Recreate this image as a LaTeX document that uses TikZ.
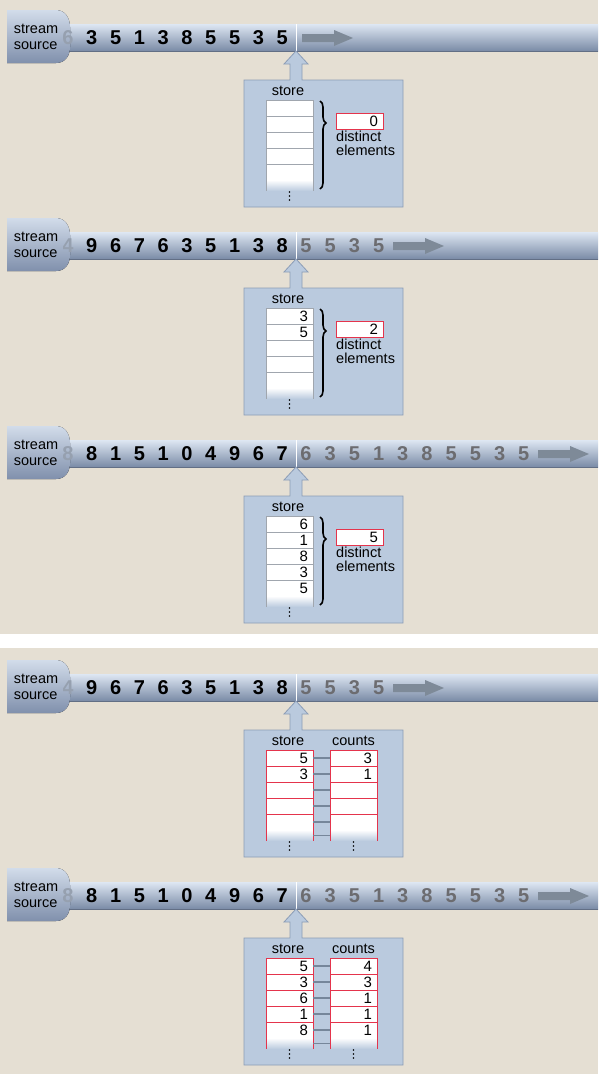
\documentclass[tikz,border=0pt]{standalone}
\usepackage{fontspec}
\setmainfont{Liberation Sans}
\usetikzlibrary{decorations.pathreplacing,positioning}

\definecolor{bgBeige}{RGB}{229,223,211}
\definecolor{boxFill}{RGB}{186,202,222}
\definecolor{boxEdge}{RGB}{140,157,182}
\definecolor{barTop}{RGB}{222,231,243}
\definecolor{barMid}{RGB}{202,215,233}
\definecolor{barBot}{RGB}{122,139,166}
\definecolor{srcTop}{RGB}{210,220,234}
\definecolor{srcBot}{RGB}{128,144,172}
\definecolor{hideGray}{RGB}{150,160,175}
\definecolor{flowGray}{RGB}{126,138,152}
\definecolor{waitGray}{RGB}{108,108,112}
\definecolor{cellGray}{RGB}{160,166,174}
\definecolor{cellRed}{RGB}{228,52,76}
\definecolor{linkGray}{RGB}{118,134,154}

\begin{document}
\begin{tikzpicture}[x=1pt, y=-1pt,
		txt/.style={font=\fontsize{14.5}{14}\selectfont, inner sep=0pt},
		bigdigit/.style={font=\fontsize{20}{20}\selectfont\bfseries, inner sep=0pt},
		cellnum/.style={font=\fontsize{15}{15}\selectfont, inner sep=0pt, anchor=east},
		cell/.style={draw=#1, fill=white, minimum width=47pt, minimum height=16pt, inner sep=0pt},
		cellfade/.style={top color=white, middle color=white, bottom color=boxFill, minimum width=47pt, minimum height=11pt, inner sep=0pt},
		counter/.style={draw=cellRed, fill=white, minimum width=47pt, minimum height=16pt, inner sep=0pt},
		panelbox/.style={draw=boxEdge, fill=boxFill, line width=0.8pt},
		link/.style={draw=linkGray, line width=1.3pt}
		]
		
		\useasboundingbox (0,0) rectangle (598,1074);
		\fill[bgBeige] (0,0) rectangle (598,634);
		\fill[bgBeige] (0,648) rectangle (598,1074);
		
		% Streams and store boxes
		\foreach \p/\dy/\blk/\gry/\ax in {
			1/0/{6,3,5,1,3,8,5,5,3,5}/{}/302,
			2/208/{4,9,6,7,6,3,5,1,3,8}/{5,5,3,5}/393,
			3/416/{8,8,1,5,1,0,4,9,6,7}/{6,3,5,1,3,8,5,5,3,5}/538,
			4/650/{4,9,6,7,6,3,5,1,3,8}/{5,5,3,5}/393,
			5/858/{8,8,1,5,1,0,4,9,6,7}/{6,3,5,1,3,8,5,5,3,5}/538}{
			\begin{scope}[shift={(0,\dy)}]
				\fill[top color=barTop, middle color=barMid, bottom color=barBot] (60,24) rectangle (598,51);
				\draw[barBot!80!black, line width=0.6pt] (60,51) -- (598,51);
				\foreach \d [count=\i from 0] in \blk {
					\ifnum\i>0 \node[bigdigit] (d\p-\i) at (68+23.8*\i,38) {\d};\fi
				}
				\foreach \d [count=\j from 0] in \gry
					\node[bigdigit, text=waitGray] (g\p-\j) at (306+24.2*\j,38) {\d};
				\fill[top color=srcTop, bottom color=srcBot] (7,10) -- (56,10) .. controls (65,10) and (70,18) .. (70,27) -- (70,47) .. controls (70,56) and (65,63) .. (56,63) -- (7,63) -- cycle;
				\node[txt, align=left, font=\fontsize{14.5}{16}\selectfont] (src\p) at (36,37) {stream\\source};
				% first digit half hidden by the source
				\begin{scope}
					\clip (63,20) rectangle (80,55);
					\foreach \d [count=\i from 0] in \blk {
						\ifnum\i=0 \node[bigdigit, text=hideGray] (d\p-0) at (68,38) {\d};\fi
					}
				\end{scope}
				\draw[white, line width=0.9pt] (296,24) -- (296,51);
				\fill[flowGray] (\ax,34) -- ++(32,0) -- ++(0,-4) -- ++(19,8) -- ++(-19,8) -- ++(0,-4) -- ++(-32,0) -- cycle;
				% box with pointer
				\filldraw[panelbox] (244,80) -- (290,80) -- (290,64) -- (284,64) -- (296,51) -- (308,64) -- (302,64) -- (302,80) -- (403,80) -- (403,207) -- (244,207) -- cycle;
				\node[txt] (st\p) at (288,91) {store};
			\end{scope}
		}
		
		% Distinct elements
		\foreach \p/\dy/\vals/\n in {1/0/{}/0, 2/208/{3,5}/2, 3/416/{6,1,8,3,5}/5}{
			\begin{scope}[shift={(0,\dy)}]
				\foreach \r in {1,...,5}
					\node[cell=cellGray] (s\p-\r) at (289.5,92+16*\r) {};
				\node[cellfade] (s\p-6) at (289.5,185.5) {};
				\draw[cellGray] (s\p-6.north west) -- (s\p-6.south west) (s\p-6.north east) -- (s\p-6.south east);
				\foreach \v [count=\r] in \vals
					\node[cellnum] at ([xshift=-5pt]s\p-\r.east) {\v};
				\foreach \k in {0,1,2}
					\fill (289.5,192+4*\k) circle (0.8);
				\draw[decorate, decoration={brace, amplitude=6pt, aspect=0.25}, line width=1.6pt] (320,101) -- (320,189);
				\node[counter] (cnt\p) at (359.5,121) {};
				\node[cellnum] at ([xshift=-5pt]cnt\p.east) {\n};
				\node[txt, align=left, anchor=north west] (lbl\p) at (336,130.5) {distinct\\elements};
			\end{scope}
		}
		
		% Store and counts
		\foreach \p/\dy/\vals/\cnts in {4/650/{5,3}/{3,1}, 5/858/{5,3,6,1,8}/{4,3,1,1,1}}{
			\begin{scope}[shift={(0,\dy)}]
				\node[txt] (cl\p) at (353.5,91) {counts};
				\foreach \r in {1,...,5}{
					\node[cell=cellRed] (s\p-\r) at (289.5,92+16*\r) {};
					\node[cell=cellRed] (c\p-\r) at (353.5,92+16*\r) {};
				}
				\node[cellfade] (s\p-6) at (289.5,185.5) {};
				\node[cellfade] (c\p-6) at (353.5,185.5) {};
				\foreach \colname in {s,c}
					\draw[cellRed] (\colname\p-6.north west) -- (\colname\p-6.south west) (\colname\p-6.north east) -- (\colname\p-6.south east);
				\foreach \r in {1,...,6}
					\draw[link] (s\p-\r.east) -- (c\p-\r.west);
				\foreach \v [count=\r] in \vals
					\node[cellnum] at ([xshift=-5pt]s\p-\r.east) {\v};
				\foreach \v [count=\r] in \cnts
					\node[cellnum] at ([xshift=-5pt]c\p-\r.east) {\v};
				\foreach \k in {0,1,2}{
					\fill (289.5,192+4*\k) circle (0.8);
					\fill (353.5,192+4*\k) circle (0.8);
				}
			\end{scope}
		}
		
	\end{tikzpicture}
\end{document}
